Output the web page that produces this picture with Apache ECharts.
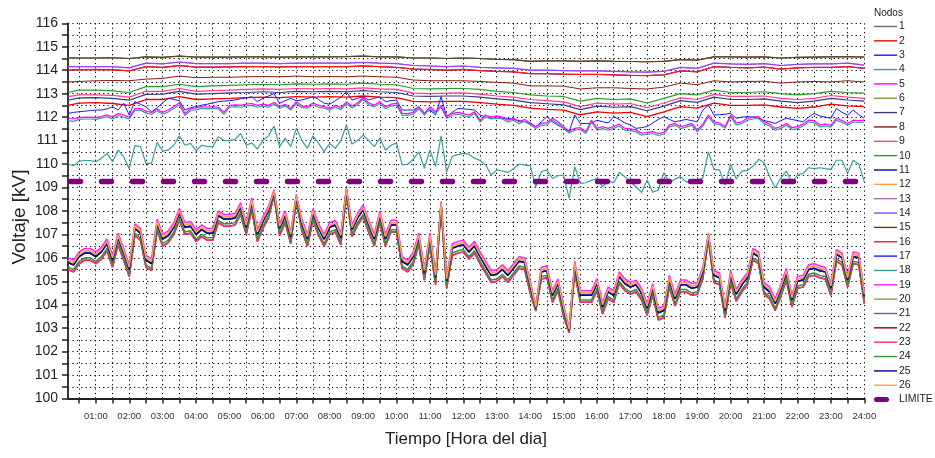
<!DOCTYPE html>
<html>
<head>
<meta charset="utf-8">
<script src="https://cdn.jsdelivr.net/npm/echarts@6/dist/echarts.min.js"></script>
<style>
  html, body { margin: 0; padding: 0; background: #fff; }
  #chart { width: 935px; height: 458px; }
</style>
</head>
<body>
<div id="chart"></div>
<script>
// Sampling times (hours of the day): 10-minute and 30-minute records
const horas10 = Array.from({ length: 144 }, (_, i) => (i + 1) / 6);
const horas30 = [1 / 6].concat(Array.from({ length: 48 }, (_, i) => (i + 1) / 2));

// Hour labels on the time axis
const horasEtiqueta = [1, 2, 3, 4, 5, 6, 7, 8, 9, 10, 11, 12, 13, 14, 15, 16, 17, 18, 19, 20, 21, 22, 23, 24];

// Lower voltage limit (kV)
const limite = 109.25;

// ---- Node voltages [kV], 30-minute records ----
const vA = [114.52, 114.52, 114.52, 114.53, 114.50, 114.57, 114.55, 114.60, 114.56, 114.56, 114.56, 114.57,
  114.57, 114.56, 114.57, 114.57, 114.57, 114.58, 114.60, 114.57, 114.57, 114.52, 114.52, 114.50,
  114.52, 114.50, 114.46, 114.45, 114.38, 114.40, 114.40, 114.38, 114.40, 114.38, 114.37, 114.36,
  114.38, 114.45, 114.43, 114.57, 114.57, 114.56, 114.57, 114.52, 114.55, 114.56, 114.57, 114.58, 114.56];
const vB = [114.15, 114.15, 114.15, 114.15, 114.10, 114.30, 114.27, 114.35, 114.28, 114.28, 114.28, 114.30,
  114.30, 114.28, 114.30, 114.30, 114.30, 114.30, 114.33, 114.30, 114.28, 114.20, 114.18, 114.15,
  114.18, 114.12, 114.10, 114.08, 114.00, 114.00, 113.98, 113.97, 113.97, 113.95, 113.93, 113.92,
  113.95, 114.12, 114.08, 114.30, 114.27, 114.25, 114.28, 114.20, 114.25, 114.27, 114.27, 114.30, 114.22];
const vC = [114.00, 114.02, 114.03, 114.02, 113.97, 114.15, 114.12, 114.20, 114.13, 114.13, 114.14, 114.15,
  114.15, 114.14, 114.15, 114.15, 114.15, 114.15, 114.18, 114.15, 114.12, 114.05, 114.03, 114.00,
  114.03, 113.98, 113.95, 113.93, 113.85, 113.85, 113.83, 113.82, 113.82, 113.80, 113.78, 113.77,
  113.80, 113.97, 113.93, 114.15, 114.12, 114.10, 114.13, 114.05, 114.10, 114.12, 114.12, 114.15, 114.08];
const vD = [113.50, 113.52, 113.55, 113.56, 113.55, 113.62, 113.65, 113.75, 113.68, 113.70, 113.70, 113.72,
  113.73, 113.72, 113.75, 113.72, 113.73, 113.72, 113.75, 113.72, 113.70, 113.58, 113.55, 113.55,
  113.55, 113.52, 113.48, 113.45, 113.33, 113.33, 113.32, 113.20, 113.25, 113.25, 113.22, 113.20,
  113.28, 113.45, 113.38, 113.55, 113.50, 113.52, 113.53, 113.45, 113.50, 113.52, 113.50, 113.55, 113.50];
const vE = [113.05, 113.15, 113.15, 113.12, 113.05, 113.30, 113.30, 113.40, 113.30, 113.33, 113.35, 113.38,
  113.40, 113.38, 113.42, 113.40, 113.42, 113.40, 113.45, 113.40, 113.38, 113.22, 113.20, 113.22,
  113.22, 113.18, 113.10, 113.05, 112.95, 112.90, 112.88, 112.68, 112.80, 112.75, 112.78, 112.60,
  112.80, 113.00, 112.95, 113.15, 113.05, 113.05, 113.08, 113.00, 112.95, 113.00, 113.10, 113.05, 113.02];
const vF = [112.87, 112.95, 112.95, 112.93, 112.85, 113.10, 113.10, 113.22, 113.10, 113.13, 113.15, 113.18,
  113.20, 113.18, 113.22, 113.20, 113.22, 113.20, 113.25, 113.20, 113.18, 113.02, 113.00, 113.02,
  113.03, 112.98, 112.90, 112.85, 112.75, 112.70, 112.65, 112.45, 112.60, 112.55, 112.58, 112.40,
  112.60, 112.82, 112.75, 112.97, 112.88, 112.88, 112.90, 112.80, 112.75, 112.80, 112.92, 112.85, 112.80];
const vG = [112.72, 112.82, 112.83, 112.80, 112.72, 112.97, 112.98, 113.10, 112.98, 113.00, 113.03, 113.05,
  113.08, 113.05, 113.10, 113.08, 113.10, 113.08, 113.13, 113.08, 113.05, 112.90, 112.88, 112.90,
  112.90, 112.85, 112.78, 112.72, 112.62, 112.57, 112.52, 112.32, 112.47, 112.42, 112.45, 112.27,
  112.47, 112.70, 112.63, 112.85, 112.75, 112.75, 112.78, 112.68, 112.62, 112.68, 112.80, 112.73, 112.68];
const vH = [112.50, 112.60, 112.62, 112.58, 112.50, 112.75, 112.75, 112.87, 112.75, 112.78, 112.80, 112.83,
  112.85, 112.83, 112.87, 112.85, 112.87, 112.85, 112.90, 112.85, 112.83, 112.67, 112.65, 112.67,
  112.67, 112.62, 112.55, 112.50, 112.38, 112.33, 112.30, 112.10, 112.22, 112.17, 112.20, 112.02,
  112.22, 112.45, 112.38, 112.60, 112.50, 112.50, 112.52, 112.43, 112.37, 112.43, 112.55, 112.48, 112.45];

// ---- Node voltages [kV], 10-minute records ----
const vI = [112.16, 112.2, 112.23, 112.25, 112.28, 112.3,
  112.3, 112.35, 112.44, 112.3, 112.59, 112.09,
  112.66, 112.55, 112.44, 112.23, 112.4, 112.61,
  112.8, 112.75, 112.7, 112.3, 112.4, 112.45,
  112.51, 112.55, 112.6, 112.66, 112.68, 112.7,
  112.73, 112.78, 112.82, 112.87, 112.66, 112.8,
  112.9, 113.0, 112.59, 112.7, 112.8, 112.7,
  112.73, 112.8, 112.87, 112.75, 112.59, 112.55,
  112.7, 112.85, 113.08, 112.73, 112.8, 112.87,
  112.73, 112.8, 112.87, 112.66, 112.7, 112.73,
  112.3, 112.3, 112.3, 112.44, 112.16, 112.3,
  112.09, 112.87, 112.02, 112.2, 112.37, 112.35,
  112.33, 112.3, 112.09, 112.0, 111.95, 111.95,
  111.95, 111.95, 111.9, 111.85, 111.8, 111.73,
  111.59, 111.8, 112.02, 111.8, 111.65, 111.52,
  111.38, 112.09, 111.73, 111.73, 111.73, 111.87,
  111.8, 111.75, 112.02, 111.9, 111.75, 111.66,
  111.52, 111.55, 111.6, 111.75, 111.9, 112.02,
  111.9, 111.8, 111.85, 111.9, 111.85, 111.8,
  112.3, 112.51, 112.09, 112.1, 112.12, 112.16,
  111.95, 112.0, 112.02, 112.0, 111.95, 111.85,
  111.8, 111.73, 111.85, 111.95, 111.9, 111.85,
  111.8, 112.0, 112.16, 112.05, 112.0, 111.95,
  112.37, 112.2, 112.09, 112.3, 112.1, 111.95];
const vJ = [111.95, 111.92, 111.98, 112.0, 112.0, 111.98,
  112.02, 112.1, 112.0, 112.15, 112.09, 112.0,
  112.35, 112.37, 112.25, 112.2, 112.35, 112.2,
  112.3, 112.45, 112.6, 112.15, 112.35, 112.4,
  112.45, 112.42, 112.45, 112.42, 112.2, 112.5,
  112.52, 112.5, 112.55, 112.58, 112.5, 112.55,
  112.5, 112.62, 112.45, 112.55, 112.37, 112.66,
  112.47, 112.45, 112.6, 112.5, 112.45, 112.37,
  112.5, 112.4, 112.65, 112.47, 112.6, 112.84,
  112.6, 112.51, 112.66, 112.44, 112.55, 112.59,
  112.16, 112.15, 112.2, 112.44, 112.16, 112.44,
  112.23, 112.5, 112.02, 112.16, 112.2, 112.15,
  112.09, 112.23, 111.87, 112.09, 112.0, 112.05,
  112.0, 111.87, 111.95, 111.8, 111.9, 111.75,
  111.59, 111.73, 111.75, 111.95, 111.8, 111.59,
  111.4, 111.52, 111.55, 111.38, 111.87, 111.52,
  111.59, 111.52, 111.6, 111.7, 111.52, 111.5,
  111.45, 111.31, 111.35, 111.38, 111.3, 111.35,
  111.66, 111.73, 111.59, 111.65, 111.73, 111.45,
  111.7, 112.09, 111.8, 111.75, 111.6, 112.09,
  111.75, 111.8, 111.95, 112.0, 112.02, 111.8,
  111.7, 111.52, 111.6, 111.73, 111.55, 111.59,
  111.7, 111.87, 111.85, 111.66, 111.7, 111.65,
  111.95, 111.85, 111.73, 111.87, 111.85, 111.87];
const vK = [111.85, 111.82, 111.9, 111.92, 111.92, 111.9,
  111.95, 112.02, 111.92, 112.07, 112.0, 111.92,
  112.27, 112.3, 112.17, 112.12, 112.27, 112.12,
  112.22, 112.37, 112.52, 112.07, 112.27, 112.32,
  112.37, 112.35, 112.37, 112.35, 112.12, 112.42,
  112.45, 112.42, 112.47, 112.5, 112.42, 112.47,
  112.42, 112.55, 112.38, 112.47, 112.3, 112.58,
  112.4, 112.38, 112.52, 112.42, 112.38, 112.3,
  112.42, 112.32, 112.57, 112.4, 112.52, 112.76,
  112.52, 112.43, 112.58, 112.36, 112.47, 112.51,
  112.08, 112.07, 112.12, 112.36, 112.08, 112.36,
  112.15, 112.42, 111.94, 112.08, 112.12, 112.07,
  112.01, 112.15, 111.79, 112.01, 111.92, 111.97,
  111.92, 111.79, 111.87, 111.72, 111.82, 111.67,
  111.51, 111.65, 111.67, 111.87, 111.72, 111.51,
  111.32, 111.44, 111.47, 111.3, 111.79, 111.44,
  111.51, 111.44, 111.52, 111.62, 111.44, 111.42,
  111.37, 111.23, 111.27, 111.3, 111.22, 111.27,
  111.58, 111.65, 111.51, 111.57, 111.65, 111.37,
  111.62, 112.01, 111.72, 111.67, 111.52, 112.01,
  111.67, 111.72, 111.87, 111.92, 111.94, 111.72,
  111.62, 111.44, 111.52, 111.65, 111.47, 111.51,
  111.62, 111.79, 111.77, 111.58, 111.62, 111.57,
  111.87, 111.77, 111.65, 111.79, 111.77, 111.79];
const vL = [110.0, 109.93, 110.12, 110.15, 110.15, 110.1,
  110.25, 110.45, 110.1, 110.6, 110.3, 109.81,
  110.78, 110.74, 110.03, 110.03, 110.92, 110.55,
  110.6, 110.8, 111.2, 110.8, 110.88, 110.57,
  110.8, 110.75, 110.74, 111.16, 111.0, 111.0,
  111.05, 111.3, 110.8, 110.9, 110.64, 111.0,
  111.2, 111.62, 110.74, 111.1, 110.74, 111.52,
  111.0, 110.67, 111.2, 110.88, 110.53, 110.88,
  110.67, 111.0, 111.66, 110.85, 111.0, 111.23,
  111.0, 110.74, 111.1, 110.6, 110.8, 110.9,
  109.96, 109.99, 110.2, 110.52, 109.82, 110.6,
  109.9, 111.2, 109.67, 110.33, 110.4, 110.45,
  110.42, 110.25, 110.15, 109.96, 109.53, 109.75,
  109.7, 109.64, 109.8, 110.0, 109.95, 109.93,
  109.03, 109.67, 109.75, 109.38, 109.5, 109.53,
  108.53, 109.89, 109.17, 109.2, 109.3, 109.38,
  109.03, 109.27, 109.2, 109.65, 109.46, 109.24,
  109.03, 108.78, 109.32, 108.8, 108.88, 109.63,
  109.2, 109.35, 109.46, 109.24, 109.24, 109.3,
  109.4, 110.52, 109.77, 109.75, 109.1, 110.0,
  109.36, 109.7, 109.73, 109.9, 110.2, 110.05,
  109.46, 108.99, 109.4, 109.7, 109.2, 109.53,
  109.6, 109.84, 109.8, 109.84, 109.8, 109.77,
  110.16, 110.16, 109.6, 110.16, 110.0, 109.24];
const vBajoM = [106.0, 105.9, 106.25, 106.4, 106.4, 106.25,
  106.45, 106.8, 106.1, 107.05, 106.4, 105.7,
  107.45, 107.25, 106.1, 105.95, 107.65, 107.0,
  107.15, 107.5, 108.1, 107.5, 107.55, 107.2,
  107.4, 107.25, 107.25, 108.0, 107.85, 107.85,
  107.9, 108.35, 107.5, 108.55, 107.2, 107.75,
  108.2, 108.9, 107.45, 108.0, 107.1, 108.7,
  107.65, 107.0, 108.1, 107.45, 107.0, 107.5,
  107.6, 107.05, 109.0, 107.4, 107.9, 108.25,
  107.6, 107.0, 108.0, 107.0, 107.6, 107.6,
  106.05, 105.9, 106.25, 107.05, 105.55, 107.05,
  105.35, 108.4, 105.2, 106.6, 106.7, 106.75,
  106.45, 106.7, 106.25, 105.85, 105.45, 105.5,
  105.7, 105.45, 105.75, 106.05, 106.0, 105.0,
  103.95, 105.6, 105.65, 104.6, 105.1, 104.0,
  103.0, 105.85, 104.6, 104.6, 104.6, 105.1,
  104.1, 104.75, 104.6, 105.4, 105.1, 104.95,
  105.05, 104.7, 104.05, 104.9, 103.85, 103.95,
  105.25, 104.45, 105.05, 105.05, 104.9, 104.95,
  105.6, 107.05, 105.45, 105.35, 103.95, 105.45,
  104.65, 105.05, 105.35, 106.4, 106.25, 104.95,
  104.75, 104.25, 104.85, 105.55, 104.4, 105.2,
  105.25, 105.7, 105.75, 105.65, 105.6, 104.9,
  106.35, 106.2, 105.25, 106.25, 106.2, 104.55];
const vBajoO = [105.9, 105.8, 106.15, 106.3, 106.3, 106.15,
  106.35, 106.7, 106.0, 106.95, 106.3, 105.6,
  107.35, 107.15, 106.0, 105.85, 107.55, 106.9,
  107.05, 107.4, 108.0, 107.4, 107.45, 107.1,
  107.3, 107.15, 107.15, 107.9, 107.75, 107.75,
  107.8, 108.25, 107.4, 108.45, 107.1, 107.65,
  108.1, 108.85, 107.35, 107.9, 107.0, 108.65,
  107.55, 106.9, 108.0, 107.35, 106.9, 107.4,
  107.5, 106.95, 108.95, 107.3, 107.8, 108.15,
  107.5, 106.9, 107.9, 106.9, 107.5, 107.5,
  105.95, 105.8, 106.15, 106.95, 105.45, 106.95,
  105.25, 108.35, 105.1, 106.5, 106.6, 106.65,
  106.35, 106.6, 106.15, 105.75, 105.35, 105.4,
  105.6, 105.35, 105.65, 105.95, 105.9, 104.9,
  103.9, 105.5, 105.55, 104.5, 105.0, 103.9,
  102.95, 105.75, 104.5, 104.5, 104.5, 105.0,
  104.0, 104.65, 104.5, 105.3, 105.0, 104.85,
  104.95, 104.6, 103.95, 104.8, 103.75, 103.85,
  105.15, 104.35, 104.95, 104.95, 104.8, 104.85,
  105.5, 107.0, 105.35, 105.25, 103.85, 105.35,
  104.55, 104.95, 105.25, 106.3, 106.15, 104.85,
  104.65, 104.15, 104.75, 105.45, 104.3, 105.1,
  105.15, 105.6, 105.65, 105.55, 105.5, 104.8,
  106.25, 106.1, 105.15, 106.15, 106.1, 104.45];
const vBajoN = [105.8, 105.7, 106.05, 106.2, 106.2, 106.05,
  106.25, 106.6, 105.9, 106.85, 106.2, 105.5,
  107.25, 107.05, 105.9, 105.75, 107.45, 106.8,
  106.95, 107.3, 107.9, 107.3, 107.35, 107.0,
  107.2, 107.05, 107.05, 107.8, 107.65, 107.65,
  107.7, 108.15, 107.3, 108.35, 107.0, 107.55,
  108.0, 108.78, 107.25, 107.8, 106.9, 108.58,
  107.45, 106.8, 107.9, 107.25, 106.8, 107.3,
  107.4, 106.85, 108.88, 107.2, 107.7, 108.05,
  107.4, 106.8, 107.8, 106.8, 107.4, 107.4,
  105.85, 105.7, 106.05, 106.85, 105.35, 106.85,
  105.15, 108.28, 105.0, 106.4, 106.5, 106.55,
  106.25, 106.5, 106.05, 105.65, 105.25, 105.3,
  105.5, 105.25, 105.55, 105.85, 105.8, 104.8,
  103.85, 105.4, 105.45, 104.4, 104.9, 103.8,
  102.9, 105.65, 104.4, 104.4, 104.4, 104.9,
  103.9, 104.55, 104.4, 105.2, 104.9, 104.75,
  104.85, 104.5, 103.85, 104.7, 103.65, 103.75,
  105.05, 104.25, 104.85, 104.85, 104.7, 104.75,
  105.4, 106.92, 105.25, 105.15, 103.75, 105.25,
  104.45, 104.85, 105.15, 106.2, 106.05, 104.75,
  104.55, 104.05, 104.65, 105.35, 104.2, 105.0,
  105.05, 105.5, 105.55, 105.45, 105.4, 104.7,
  106.15, 106.0, 105.05, 106.05, 106.0, 104.35];
const vBajoG = [105.6, 105.5, 105.85, 106.0, 106.0, 105.85,
  106.05, 106.4, 105.7, 106.65, 106.0, 105.3,
  107.05, 106.85, 105.7, 105.55, 107.25, 106.6,
  106.75, 107.1, 107.7, 107.1, 107.15, 106.8,
  107.0, 106.85, 106.85, 107.6, 107.45, 107.45,
  107.5, 107.95, 107.1, 108.15, 106.8, 107.35,
  107.8, 108.7, 107.05, 107.6, 106.7, 108.48,
  107.25, 106.6, 107.7, 107.05, 106.6, 107.1,
  107.2, 106.65, 108.8, 107.0, 107.5, 107.85,
  107.2, 106.6, 107.6, 106.6, 107.2, 107.2,
  105.65, 105.5, 105.85, 106.65, 105.15, 106.65,
  104.95, 108.18, 104.8, 106.2, 106.3, 106.35,
  106.05, 106.3, 105.85, 105.45, 105.05, 105.1,
  105.3, 105.05, 105.35, 105.65, 105.6, 104.6,
  103.78, 105.2, 105.25, 104.2, 104.7, 103.6,
  102.85, 105.45, 104.2, 104.2, 104.2, 104.7,
  103.7, 104.35, 104.2, 105.0, 104.7, 104.55,
  104.65, 104.3, 103.65, 104.5, 103.45, 103.55,
  104.85, 104.05, 104.65, 104.65, 104.5, 104.55,
  105.2, 106.82, 105.05, 104.95, 103.55, 105.05,
  104.25, 104.65, 104.95, 106.0, 105.85, 104.55,
  104.35, 103.85, 104.45, 105.15, 104.0, 104.8,
  104.85, 105.3, 105.35, 105.25, 105.2, 104.5,
  105.95, 105.8, 104.85, 105.85, 105.8, 104.15];
const vBajoR = [105.5, 105.4, 105.75, 105.9, 105.9, 105.75,
  105.95, 106.3, 105.6, 106.55, 105.9, 105.2,
  106.95, 106.75, 105.6, 105.45, 107.15, 106.5,
  106.65, 107.0, 107.6, 107.0, 107.05, 106.7,
  106.9, 106.75, 106.75, 107.5, 107.35, 107.35,
  107.4, 107.85, 107.0, 108.05, 106.7, 107.25,
  107.7, 108.65, 106.95, 107.5, 106.6, 108.42,
  107.15, 106.5, 107.6, 106.95, 106.5, 107.0,
  107.1, 106.55, 108.75, 106.9, 107.4, 107.75,
  107.1, 106.5, 107.5, 106.5, 107.1, 107.1,
  105.55, 105.4, 105.75, 106.55, 105.05, 106.55,
  104.85, 108.12, 104.7, 106.1, 106.2, 106.25,
  105.95, 106.2, 105.75, 105.35, 104.95, 105.0,
  105.2, 104.95, 105.25, 105.55, 105.5, 104.5,
  103.73, 105.1, 105.15, 104.1, 104.6, 103.5,
  102.8, 105.35, 104.1, 104.1, 104.1, 104.6,
  103.6, 104.25, 104.1, 104.9, 104.6, 104.45,
  104.55, 104.2, 103.55, 104.4, 103.35, 103.45,
  104.75, 103.95, 104.55, 104.55, 104.4, 104.45,
  105.1, 106.77, 104.95, 104.85, 103.45, 104.95,
  104.15, 104.55, 104.85, 105.9, 105.75, 104.45,
  104.25, 103.75, 104.35, 105.05, 103.9, 104.7,
  104.75, 105.2, 105.25, 105.15, 105.1, 104.4,
  105.85, 105.7, 104.75, 105.75, 105.7, 104.05];

// Nodes in legend order: name, values, sampling times, colour, stroke width
const nodos = [
  { nombre: '1',  valores: vA, horas: horas30, color: '#6b6b6b', ancho: 1 },
  { nombre: '2',  valores: vH, horas: horas30, color: '#ee0000', ancho: 1.3 },
  { nombre: '3',  valores: vI, horas: horas10, color: '#1a1aff', ancho: 1 },
  { nombre: '4',  valores: vK, horas: horas10, color: '#3c9a9a', ancho: 1.2 },
  { nombre: '5',  valores: vJ, horas: horas10, color: '#ff00ff', ancho: 1.2 },
  { nombre: '6',  valores: vA, horas: horas30, color: '#8f8f2a', ancho: 1 },
  { nombre: '7',  valores: vG, horas: horas30, color: '#3a3a80', ancho: 1.2 },
  { nombre: '8',  valores: vD, horas: horas30, color: '#8b1a1a', ancho: 1 },
  { nombre: '9',  valores: vF, horas: horas30, color: '#ff3d8f', ancho: 1.2 },
  { nombre: '10', valores: vE, horas: horas30, color: '#2a9a2a', ancho: 1.2 },
  { nombre: '11', valores: vC, horas: horas30, color: '#0000b0', ancho: 1 },
  { nombre: '12', valores: vBajoO, horas: horas10, color: '#ffa040', ancho: 1.5 },
  { nombre: '13', valores: vB, horas: horas30, color: '#b070b0', ancho: 1 },
  { nombre: '14', valores: vB, horas: horas30, color: '#9a40ff', ancho: 1.2 },
  { nombre: '15', valores: vA, horas: horas30, color: '#5a4030', ancho: 1.2 },
  { nombre: '16', valores: vC, horas: horas30, color: '#ff1a1a', ancho: 1.3 },
  { nombre: '17', valores: vBajoN, horas: horas10, color: '#2020ff', ancho: 1.5 },
  { nombre: '18', valores: vL, horas: horas10, color: '#3a9e9e', ancho: 1.2 },
  { nombre: '19', valores: vBajoM, horas: horas10, color: '#ff22ff', ancho: 1.5 },
  { nombre: '20', valores: vBajoN, horas: horas10, color: '#999933', ancho: 1.5 },
  { nombre: '21', valores: vBajoN, horas: horas10, color: '#6060a8', ancho: 1.5 },
  { nombre: '22', valores: vBajoR, horas: horas10, color: '#8b0000', ancho: 1.5 },
  { nombre: '23', valores: vBajoR, horas: horas10, color: '#ff2a7f', ancho: 1.5 },
  { nombre: '24', valores: vBajoG, horas: horas10, color: '#2e9a2e', ancho: 1.5 },
  { nombre: '25', valores: vBajoN, horas: horas10, color: '#000090', ancho: 1.5 },
  { nombre: '26', valores: vBajoO, horas: horas10, color: '#ffa050', ancho: 1.5 }
];

const fuente = 'Liberation Sans, Arial, Helvetica, sans-serif';
const punteado = { color: '#000', width: 1, type: [1.2, 3.2] };
const iconoLinea = 'path://M0,0L23,0L23,1.4L0,1.4Z';
const iconoLimite = 'path://M2.5,0L12.5,0A2.5,2.5,0,0,1,12.5,5L2.5,5A2.5,2.5,0,0,1,2.5,0ZM23,2.5L23,2.5Z';

const pad2 = h => (h < 10 ? '0' : '') + h + ':00';
const medias = Array.from({ length: 48 }, (_, i) => (i + 1) / 2);

const series = nodos.map(n => ({
  name: n.nombre,
  type: 'line',
  xAxisIndex: 0,
  yAxisIndex: 0,
  data: n.horas.map((h, k) => [h, n.valores[k]]),
  showSymbol: false,
  symbol: 'none',
  color: n.color,
  lineStyle: { color: n.color, width: n.ancho },
  silent: true,
  z: 3
}));
series.push({
  name: 'LIMITE',
  type: 'line',
  xAxisIndex: 0,
  yAxisIndex: 0,
  data: [[horas10[0], limite], [24, limite]],
  showSymbol: false,
  symbol: 'none',
  color: '#800080',
  lineStyle: { color: '#800080', width: 5.5, type: [10, 21], cap: 'round', dashOffset: -2.5 },
  silent: true,
  z: 4
});

const chart = echarts.init(document.getElementById('chart'), null, { renderer: 'canvas' });
chart.setOption({
  animation: false,
  backgroundColor: '#fff',
  textStyle: { fontFamily: fuente },
  grid: [
    { left: 68, right: 70.7, top: 23.3, bottom: 59.5, containLabel: false },
    { left: 79, right: 70.7, top: 23.3, bottom: 59.5, containLabel: false }
  ],
  xAxis: [
    {
      type: 'value', gridIndex: 0, min: horas10[0], max: 24,
      axisLine: { show: true, lineStyle: { color: '#222', width: 1.8 } },
      axisTick: { show: true, customValues: medias, length: 5, lineStyle: { color: '#222', width: 1.5 } },
      axisLabel: { show: true, customValues: horasEtiqueta, formatter: v => pad2(Math.round(v)),
        fontSize: 9.5, color: '#333', margin: 13, fontFamily: fuente },
      splitLine: { show: false }
    },
    {
      type: 'value', gridIndex: 1, min: 0.5, max: 24, interval: 0.5,
      axisLine: { show: false }, axisTick: { show: false }, axisLabel: { show: false },
      splitLine: { show: true, lineStyle: punteado }
    }
  ],
  yAxis: [
    {
      type: 'value', gridIndex: 0, min: 100, max: 116, interval: 0.5,
      axisLine: { show: true, lineStyle: { color: '#222', width: 1.8 } },
      axisTick: { show: true, length: 6, lineStyle: { color: '#222', width: 1.5 } },
      axisLabel: { show: true, fontSize: 14, color: '#222', margin: 10, fontFamily: fuente,
        formatter: v => (Math.abs(v - Math.round(v)) < 1e-6 ? String(Math.round(v)) : '') },
      splitLine: { show: true, lineStyle: punteado }
    },
    {
      type: 'value', gridIndex: 1, min: 100, max: 116, show: false,
      splitLine: { show: false }
    }
  ],
  legend: {
    orient: 'vertical', left: 874, top: 20.5, padding: 0,
    itemWidth: 23, itemHeight: 10, itemGap: 2.35,
    selectedMode: false,
    textStyle: { fontSize: 10.5, lineHeight: 12, color: '#222', fontFamily: fuente, padding: [0, 0, 0, -3] },
    data: nodos.map(n => ({ name: n.nombre, icon: iconoLinea })).concat([{ name: 'LIMITE', icon: iconoLimite }])
  },
  graphic: [
    { type: 'text', x: 874, y: 13.3, silent: true,
      style: { text: 'Nodos', fontSize: 10, fontFamily: fuente, fill: '#222', textVerticalAlign: 'middle' } },
    { type: 'text', x: 20, y: 217, rotation: Math.PI / 2, silent: true,
      style: { text: 'Voltaje [kV]', fontSize: 19, fontFamily: fuente, fill: '#222', textAlign: 'center', textVerticalAlign: 'middle' } },
    { type: 'text', x: 466, y: 439, silent: true,
      style: { text: 'Tiempo [Hora del dia]', fontSize: 17, fontFamily: fuente, fill: '#222', textAlign: 'center', textVerticalAlign: 'middle' } }
  ],
  series: series
});
</script>
</body>
</html>
